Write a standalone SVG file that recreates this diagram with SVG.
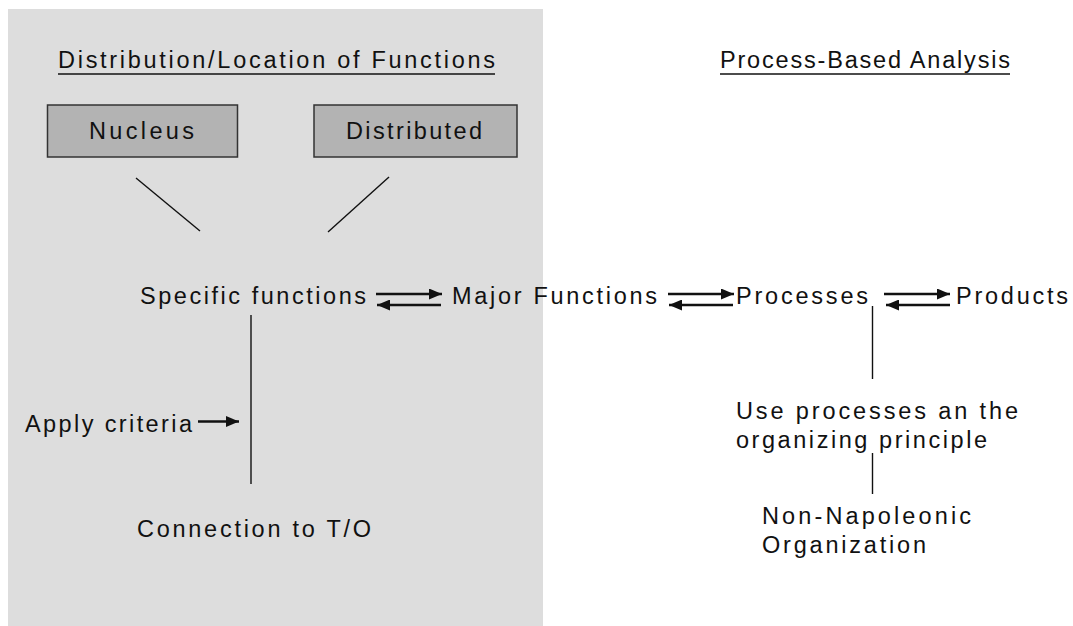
<svg xmlns="http://www.w3.org/2000/svg" width="1073" height="626" viewBox="0 0 1073 626">
  <style>
    .t { font-family: "Liberation Sans", Arial, sans-serif; font-size: 23.5px; fill: #111; }
    .box { fill: #b3b3b3; stroke: #333; stroke-width: 1.5; }
    .ln { stroke: #111; stroke-width: 1.4; fill: none; }
    .arr { stroke: #111; stroke-width: 2.6; fill: none; marker-end: url(#head); }
    .ul { stroke: #111; stroke-width: 1.5; }
  </style>
  <defs>
    <marker id="head" markerUnits="userSpaceOnUse" markerWidth="14" markerHeight="11" refX="13" refY="5.5" orient="auto">
      <path d="M0,0 L13,5.5 L0,11 Z" fill="#111"/>
    </marker>
  </defs>

  <rect width="1073" height="626" fill="#ffffff"/>
  <!-- shaded panel: distribution/location side -->
  <rect id="panel" x="8" y="9" width="535" height="617" fill="#dddddd"/>

  <g id="title-distribution">
    <text class="t" x="58" y="68" textLength="437" lengthAdjust="spacing">Distribution/Location of Functions</text>
    <line class="ul" x1="58" y1="74" x2="495" y2="74"/>
  </g>
  <g id="title-process">
    <text class="t" x="720" y="68" textLength="290" lengthAdjust="spacing">Process-Based Analysis</text>
    <line class="ul" x1="720" y1="74" x2="1010" y2="74"/>
  </g>

  <g id="nucleus">
    <rect class="box" x="47.5" y="105" width="190" height="52"/>
    <text class="t" x="89" y="139" textLength="105" lengthAdjust="spacing">Nucleus</text>
  </g>
  <g id="distributed">
    <rect class="box" x="314" y="105" width="203" height="52"/>
    <text class="t" x="346" y="139" textLength="136" lengthAdjust="spacing">Distributed</text>
  </g>

  <g id="specific-functions">
    <text class="t" x="140" y="304" textLength="226" lengthAdjust="spacing">Specific functions</text>
  </g>
  <g id="major-functions">
    <text class="t" x="452" y="304" textLength="205" lengthAdjust="spacing">Major Functions</text>
  </g>
  <g id="processes">
    <text class="t" x="736" y="304" textLength="132" lengthAdjust="spacing">Processes</text>
  </g>
  <g id="products">
    <text class="t" x="956" y="304" textLength="112" lengthAdjust="spacing">Products</text>
  </g>
  <g id="apply-criteria">
    <text class="t" x="25" y="432" textLength="167" lengthAdjust="spacing">Apply criteria</text>
  </g>
  <g id="connection-to">
    <text class="t" x="137" y="537" textLength="234" lengthAdjust="spacing">Connection to T/O</text>
  </g>
  <g id="organizing-principle">
    <text class="t" x="736" y="419" textLength="282" lengthAdjust="spacing">Use processes an the</text>
    <text class="t" x="736" y="448" textLength="251" lengthAdjust="spacing">organizing principle</text>
  </g>
  <g id="non-napoleonic">
    <text class="t" x="762" y="524" textLength="209" lengthAdjust="spacing">Non-Napoleonic</text>
    <text class="t" x="762" y="553" textLength="164" lengthAdjust="spacing">Organization</text>
  </g>

  <g id="connectors">
    <line class="ln" x1="136" y1="178" x2="200" y2="231"/>
    <line class="ln" x1="389" y1="177" x2="328" y2="232"/>
    <line class="ln" x1="251" y1="315" x2="251" y2="484"/>
    <line class="ln" x1="872.5" y1="306" x2="872.5" y2="379"/>
    <line class="ln" x1="872.5" y1="453" x2="872.5" y2="494"/>

    <line class="arr" x1="376" y1="294" x2="442" y2="294"/>
    <line class="arr" x1="441" y1="305" x2="377" y2="305"/>
    <line class="arr" x1="668" y1="294" x2="734" y2="294"/>
    <line class="arr" x1="733" y1="305" x2="669" y2="305"/>
    <line class="arr" x1="884" y1="294" x2="950" y2="294"/>
    <line class="arr" x1="950" y1="305" x2="886" y2="305"/>
    <line class="arr" x1="198" y1="421.5" x2="239" y2="421.5"/>
  </g>
</svg>
